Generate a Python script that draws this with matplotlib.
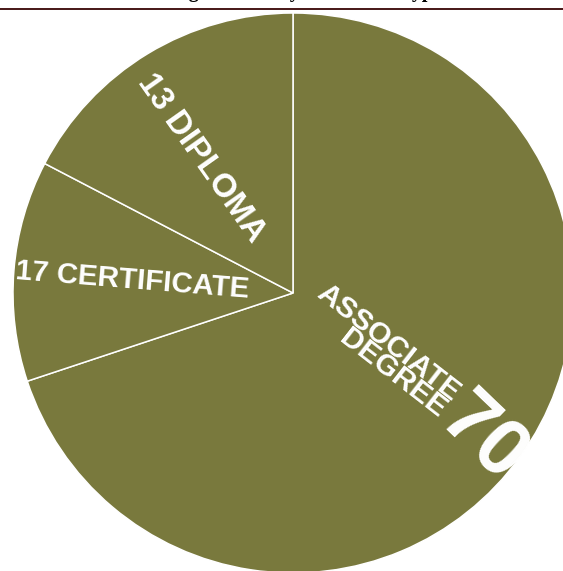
import numpy as np
import matplotlib
matplotlib.use("Agg")
import matplotlib.pyplot as plt

# ---- data ----
categories = ["ASSOCIATE\nDEGREE", "CERTIFICATE", "DIPLOMA"]
slice_shares = [69.9, 12.75, 17.35]  # wedge sizes as drawn (clockwise from top)
label_values = ["70", "17", "13"]    # numbers printed on the wedges
title = "Program Mix by Credential Type"

W, H = 563, 571
fig = plt.figure(figsize=(W / 100, H / 100), dpi=100)
ax = fig.add_axes([0, 0, 1, 1])

olive = "#79793d"
cx, cy, R = 293, H - 293, 280

wedges, _ = ax.pie(slice_shares, startangle=90, counterclock=False,
                   colors=[olive] * 3, center=(cx, cy), radius=R,
                   wedgeprops=dict(edgecolor="white", linewidth=1.1),
                   frame=True)
ax.set_xlim(0, W)
ax.set_ylim(0, H)
ax.set_aspect("equal")
ax.axis("off")

px = 0.72  # pt per px at 100 dpi
font = "Liberation Sans"

def mid(w):
    return np.deg2rad((w.theta1 + w.theta2) / 2.0)

def pt(a, r):
    return cx + r * np.cos(a), cy + r * np.sin(a)

# Associate degree: name toward center, number at outer end
a0 = mid(wedges[0])
rot0 = np.rad2deg(a0) - 2
x, y = pt(a0, 193)
ax.text(x, y + 2, categories[0], rotation=rot0, rotation_mode="anchor",
        ha="right", va="center", multialignment="right", color="white",
        fontsize=30 * px, fontweight="bold", family=font, linespacing=0.72)
x, y = pt(a0, 194)
ax.text(x, y - 2, label_values[0], rotation=rot0 - 6, rotation_mode="anchor",
        ha="left", va="center", color="white",
        fontsize=80 * px, fontweight="bold", family=font)

# Certificate and diploma: number at outer end, reading toward center
for i, (r, fs, dr, off) in zip([1, 2], [(161, 29.5, 0, (0, 0)),
                                       (164, 33, 4, (-7, -5))]):
    a = mid(wedges[i])
    rot = np.rad2deg(a) - 180 + dr
    x, y = pt(a, r)
    ax.text(x + off[0], y + off[1], f"{label_values[i]} {categories[i]}",
            rotation=rot, rotation_mode="anchor", ha="center", va="center",
            color="white", fontsize=fs * px, fontweight="bold", family=font)

# clipped title and rule at the top
ax.text(300, H + 3.0, title, ha="center", va="baseline",
        fontsize=20 * px, fontweight="bold", family="Liberation Serif",
        color="black")
ax.plot([0, W], [H - 9, H - 9], color="#4b1c1c", lw=2 * px,
        solid_capstyle="butt")

fig.savefig("out.png", dpi=100)
